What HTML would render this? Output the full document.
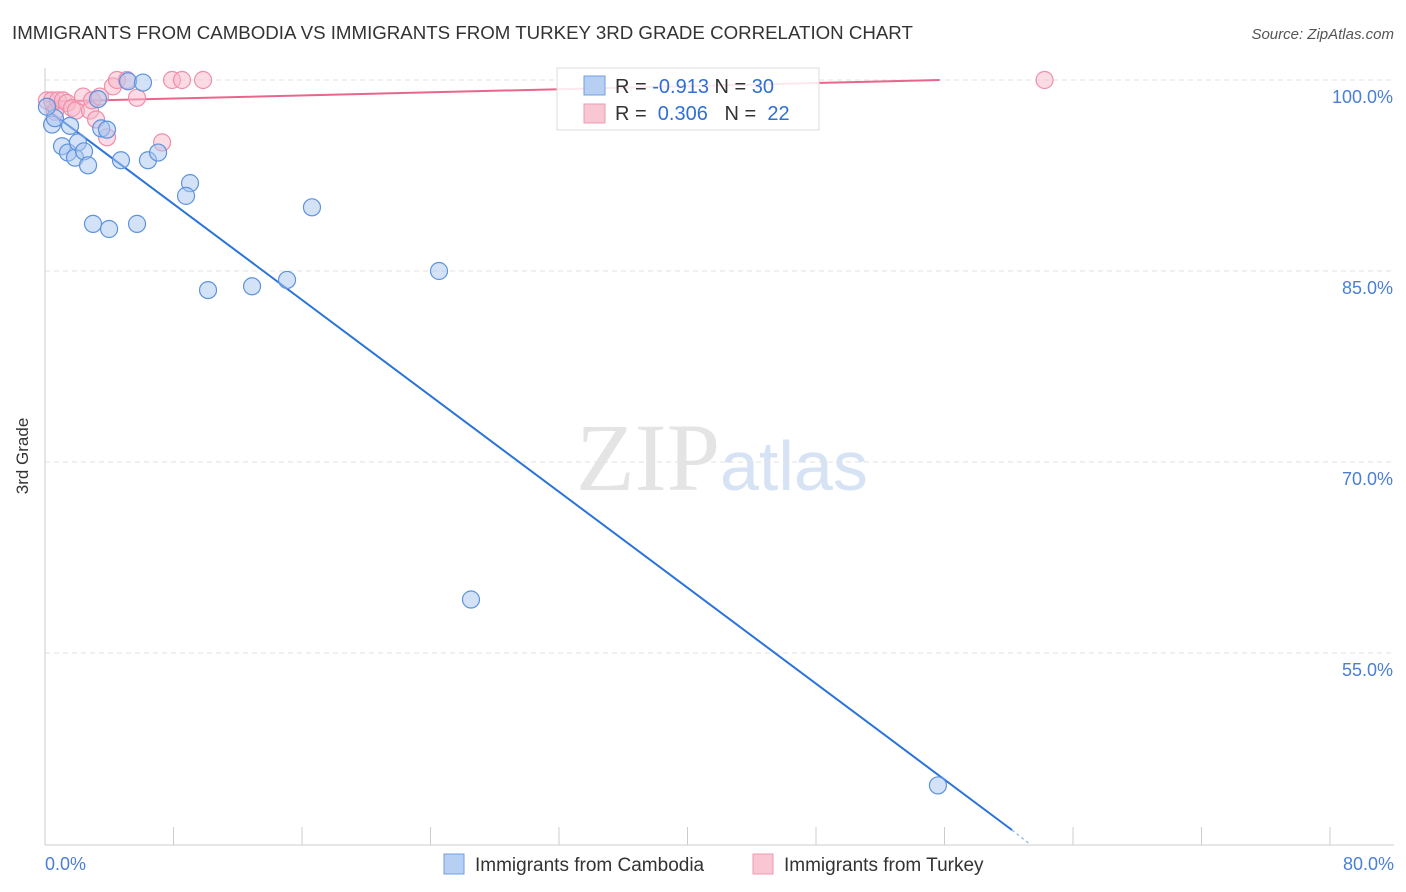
<!DOCTYPE html>
<html><head><meta charset="utf-8"><style>
body{margin:0;background:#fff;font-family:"Liberation Sans",sans-serif;}
svg{display:block}
</style></head><body>
<svg width="1406" height="892" xmlns="http://www.w3.org/2000/svg">
<text x="12" y="39" font-size="18.7" fill="#333">IMMIGRANTS FROM CAMBODIA VS IMMIGRANTS FROM TURKEY 3RD GRADE CORRELATION CHART</text>
<text x="1394" y="39" font-size="15" fill="#555" font-style="italic" text-anchor="end">Source: ZipAtlas.com</text>
<text x="720" y="490" font-size="96" fill="#e4e4e4" font-family="Liberation Serif,serif" text-anchor="end">ZIP</text>
<text x="720" y="490" font-size="70" fill="#d6e3f5">atlas</text>
<g id="grid"></g>
<line x1="45" y1="68" x2="45" y2="845" stroke="#ccc"/>
<line x1="45" y1="845" x2="1394" y2="845" stroke="#ccc"/>
<g id="xticks"></g>
<text x="28" y="456" font-size="17" fill="#333" transform="rotate(-90 28 456)" text-anchor="middle">3rd Grade</text>
<text x="45" y="870" font-size="18" fill="#4a7fd6">0.0%</text>
<text x="1394" y="870" font-size="18" fill="#4a7fd6" text-anchor="end">80.0%</text>
<g id="lines"></g>
<g id="points"></g>
<g>
<rect x="557" y="68" width="262" height="62" fill="#fff" fill-opacity="0.85" stroke="#ddd"/>
<rect x="584" y="76" width="21" height="19" fill="#b6cff2" stroke="#6f9fe0"/>
<rect x="584" y="104" width="21" height="19" fill="#f9c6d4" stroke="#ee9ab2"/>
<text x="615" y="93" font-size="20" fill="#333">R = <tspan fill="#2f6fd6">-0.913</tspan>   N = <tspan fill="#2f6fd6">30</tspan></text>
<text x="615" y="120" font-size="20" fill="#333" xml:space="preserve">R =  <tspan fill="#2f6fd6">0.306</tspan>   N =  <tspan fill="#2f6fd6">22</tspan></text>
</g>
<g>
<rect x="444" y="854" width="20" height="20" fill="#b6cff2" stroke="#6f9fe0"/>
<text x="475" y="871" font-size="19" fill="#333">Immigrants from Cambodia</text>
<rect x="753" y="854" width="20" height="20" fill="#f9c6d4" stroke="#ee9ab2"/>
<text x="784" y="871" font-size="19" fill="#333">Immigrants from Turkey</text>
</g>
</svg>
<script>
const yTicks=[100,85,70,55];
const xTickVals=[0,8,16,24,32,40,48,56,64,72,80];
const cambodiaX=[0.44,0.62,0.12,1.56,1.06,1.43,1.87,2.05,2.43,2.68,3.3,3.5,3.86,4.73,5.17,6.1,6.41,7.04,9.03,8.78,16.62,2.99,3.99,5.73,10.15,12.89,15.07,24.53,26.52,55.59];
const cambodiaY=[96.5,97.0,97.9,96.4,94.8,94.3,93.9,95.1,94.4,93.3,98.5,96.2,96.1,93.7,99.9,99.8,93.7,94.3,91.9,90.9,90.0,88.7,88.3,88.7,83.5,83.8,84.3,85.0,59.2,44.6];
const turkeyX=[0.12,0.44,0.62,0.81,1.12,1.37,1.68,1.93,2.37,2.8,2.93,3.42,3.18,3.86,4.23,4.48,5.1,5.73,7.29,7.91,8.53,9.84];
const turkeyY=[98.4,98.4,97.5,98.4,98.4,98.2,97.8,97.6,98.7,97.6,98.4,98.7,96.9,95.5,99.5,100,100,98.6,95.1,100,100,100];
const turkeyExtraX=[62.23], turkeyExtraY=[100];
const cambodiaTrend=[0,97.8,60.2,41.1];
const cambodiaTrendExt=[60.2,41.1,61.3,40.0];
const turkeyTrend=[0,98.3,55.7,100];
const NS="http://www.w3.org/2000/svg";
const sx=v=>45+v/80*1285, sy=v=>80+(100-v)/15*191;
function mk(t,a,p){const e=document.createElementNS(NS,t);for(const k in a)e.setAttribute(k,a[k]);p.appendChild(e);return e;}
const grid=document.getElementById('grid');
yTicks.forEach(v=>{
 const l=mk('line',{x1:45,x2:1394,y1:sy(v),y2:sy(v),stroke:'#e2e2e2','stroke-dasharray':'5,4'},grid);
 
 
 const t=mk('text',{x:1393,y:sy(v)+23,'font-size':18,fill:'#4a7fd6','text-anchor':'end'},grid);
 t.textContent=v.toFixed(1)+'%';
 
 
});
const xt=document.getElementById('xticks');
xTickVals.forEach(v=>{
 const l=mk('line',{x1:sx(v),x2:sx(v),y1:827,y2:845,stroke:'#ccc'},xt);
 
 
});
const lines=document.getElementById('lines');
const bl=mk('line',{x1:sx(cambodiaTrend[0]),y1:sy(cambodiaTrend[1]),x2:sx(cambodiaTrend[2]),y2:sy(cambodiaTrend[3]),stroke:'#2a74d9','stroke-width':2},lines);


const be=mk('line',{x1:sx(cambodiaTrendExt[0]),y1:sy(cambodiaTrendExt[1]),x2:sx(cambodiaTrendExt[2]),y2:sy(cambodiaTrendExt[3]),stroke:'#9dbde9','stroke-width':1.5,'stroke-dasharray':'3,3'},lines);


const pl=mk('line',{x1:sx(turkeyTrend[0]),y1:sy(turkeyTrend[1]),x2:sx(turkeyTrend[2]),y2:sy(turkeyTrend[3]),stroke:'#e8658c','stroke-width':2},lines);


const pts=document.getElementById('points');
turkeyX.concat(turkeyExtraX).forEach((x,i)=>{
 const y=i<turkeyY.length?turkeyY[i]:turkeyExtraY[i-turkeyY.length];
 const c=mk('circle',{cx:sx(x),cy:sy(y),r:8.5,fill:'#f7b8ca','fill-opacity':0.5,stroke:'#ee8fab','stroke-width':1.2},pts);
 
 
});
cambodiaX.forEach((x,i)=>{
 const c=mk('circle',{cx:sx(x),cy:sy(cambodiaY[i]),r:8.5,fill:'#a9c6ef','fill-opacity':0.5,stroke:'#5d93dd','stroke-width':1.2},pts);
 
 
});
</script>
</body></html>
